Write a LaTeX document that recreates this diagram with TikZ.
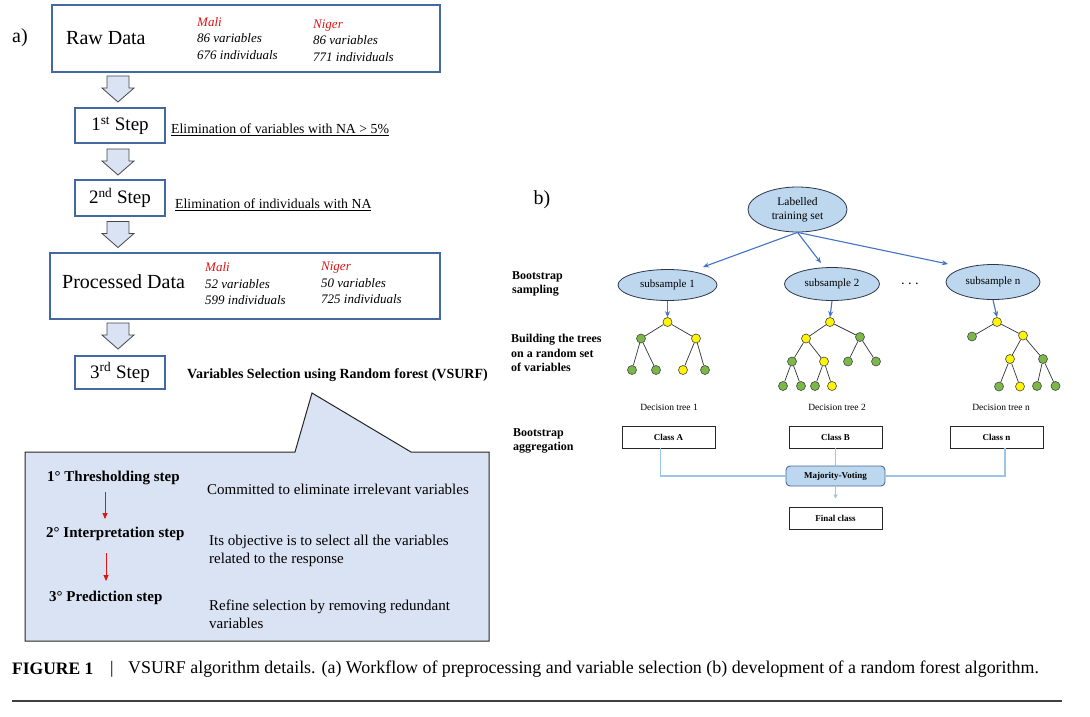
\documentclass[tikz,border=0pt]{standalone}
\usepackage{fontspec}
\setmainfont{Liberation Serif}
\usetikzlibrary{shapes.geometric,arrows.meta,calc}
\definecolor{boxblue}{RGB}{68,105,160}
\definecolor{lblue}{RGB}{218,227,243}
\definecolor{arrgray}{RGB}{70,70,70}
\definecolor{redt}{RGB}{225,20,20}
\definecolor{ellfill}{RGB}{189,215,238}
\definecolor{elldraw}{RGB}{45,55,75}
\definecolor{arrblue}{RGB}{68,114,196}
\definecolor{linkblue}{RGB}{157,195,230}
\definecolor{treeyel}{RGB}{255,245,0}
\definecolor{treegrn}{RGB}{122,184,72}
\newcommand{\fs}[2]{\fontsize{#1}{#2}\selectfont}
\tikzset{
  every node/.style={inner sep=0pt},
  abox/.style={draw=boxblue,line width=1.5pt,rectangle,inner sep=0pt},
  blockdown/.pic={\draw[draw=arrgray,fill=lblue,line width=0.8pt,line join=miter]
     (-11,-13) -- (11,-13) -- (11,-1) -- (16,-1) -- (0,13) -- (-16,-1) -- (-11,-1) -- cycle;},
  big/.style={font=\fs{20}{24}},
  stepfont/.style={font=\fs{19}{23}},
  country/.style={anchor=west,align=left,font=\fs{13}{16.5}\itshape},
  elim/.style={anchor=west,font=\fs{13.8}{16}},
  clabel/.style={anchor=west,font=\fs{15}{18}\bfseries},
  cdesc/.style={anchor=west,align=left,font=\fs{15}{18}},
  redarr/.style={draw=redt,line width=0.9pt,-{Triangle[length=6pt,width=5pt]}},
  rlab/.style={anchor=west,align=left,font=\fs{12}{14.5}\bfseries},
  ell/.style={ellipse,draw=elldraw,fill=ellfill,line width=0.8pt,inner sep=0pt},
  bluearr/.style={draw=arrblue,line width=1.1pt,-{Stealth[length=6pt,width=5pt]}},
  tn/.style={circle,draw=arrgray,line width=0.6pt,minimum size=9pt,inner sep=0pt},
  yel/.style={tn,fill=treeyel},
  grn/.style={tn,fill=treegrn},
  tedge/.style={draw=black!80,line width=0.7pt},
  dt/.style={font=\fs{9.5}{11}},
  cbox/.style={draw=black!85,line width=0.9pt,fill=white,minimum width=93pt,minimum height=22pt,inner sep=0pt,font=\fs{9}{11}\bfseries},
  link/.style={draw=linkblue,line width=1.1pt}
}
\begin{document}
\begin{tikzpicture}[x=1pt,y=-1pt]
\useasboundingbox (0,0) rectangle (1090,716);
\fill[white] (0,0) rectangle (1090,716);

% ---------- part a ----------
\node[big] (la) at (20,38) {a)};
\node[abox,minimum width=388pt,minimum height=67pt] (raw) at (246,38.5) {};
\node[big,anchor=west] (rawt) at (66,38) {Raw Data};
\node[country] (rawm) at (197,38.5) {\textcolor{redt}{Mali}\\86 variables\\676 individuals};
\node[country] (rawn) at (313,40.5) {\textcolor{redt}{Niger}\\86 variables\\771 individuals};

\pic (ar1) at (118,89) {blockdown};

\node[abox,minimum width=90pt,minimum height=35pt,stepfont] (s1) at (120,125.5) {1\textsuperscript{st} Step};
\node[elim] (e1) at (171,130) {\underline{Elimination of variables with NA > 5\%}};

\pic (ar2) at (118,162) {blockdown};

\node[abox,minimum width=90pt,minimum height=36pt,stepfont] (s2) at (120,198) {2\textsuperscript{nd} Step};
\node[elim] (e2) at (175,205) {\underline{Elimination of individuals with NA}};

\pic (ar3) at (118,234.5) {blockdown};

\node[abox,minimum width=390pt,minimum height=66pt] (proc) at (245,286) {};
\node[big,anchor=west] (proct) at (62,282) {Processed Data};
\node[country] (procm) at (205,284) {\textcolor{redt}{Mali}\\52 variables\\599 individuals};
\node[country] (procn) at (321,283) {\textcolor{redt}{Niger}\\50 variables\\725 individuals};

\pic (ar4) at (118,336) {blockdown};

\node[abox,minimum width=90pt,minimum height=33pt,stepfont] (s3) at (120,372.5) {3\textsuperscript{rd} Step};
\node[anchor=west,font=\fs{14}{16}\bfseries] (vs) at (187,375) {Variables Selection using Random forest (VSURF)};

% callout
\draw[draw=black!85,fill=lblue,line width=1pt] (25,452) -- (295,452) -- (312,393) -- (411,452) -- (489,452) -- (489,641) -- (25,641) -- cycle;
\node[clabel] (c1) at (47,478) {1° Thresholding step};
\node[cdesc] (d1) at (207,489) {Committed to eliminate irrelevant variables};
\node[clabel] (c2) at (46,534) {2° Interpretation step};
\node[cdesc] (d2) at (209,551) {Its objective is to select all the variables\\related to the response};
\node[clabel] (c3) at (49,598) {3° Prediction step};
\node[cdesc] (d3) at (209,614) {Refine selection by removing redundant\\variables};
\coordinate (r1a) at (105,492);
\coordinate (r1b) at (105,519);
\coordinate (r2a) at (106,553);
\coordinate (r2b) at (106,581);
\draw[redarr] (r1a) -- (r1b);
\draw[redarr] (r2a) -- (r2b);

% ---------- part b ----------
\node[big] (lb) at (542,200) {b)};
\node[ell,minimum width=99pt,minimum height=45pt,align=center,font=\fs{11.5}{14}] (lab) at (797.5,209.5) {Labelled\\training set};
\node[ell,minimum width=99pt,minimum height=31pt,font=\fs{11}{12}] (sub1) at (667.5,285) {subsample 1};
\node[ell,minimum width=95pt,minimum height=33pt,font=\fs{11}{12}] (sub2) at (832,284) {subsample 2};
\node[ell,minimum width=94pt,minimum height=35pt,font=\fs{11}{12}] (subn) at (993,282) {subsample n};
\node[font=\fs{14}{14}] (dots) at (910,286) {·\,·\,·};

\coordinate (ea) at (703,267);
\coordinate (eb) at (821,263);
\coordinate (ec) at (948,264);
\draw[bluearr] (lab.south) -- (ea);
\draw[bluearr] (lab.south) -- (eb);
\draw[bluearr] (lab.south) -- (ec);

\node[rlab] (bs) at (512,284) {Bootstrap\\sampling};
\node[rlab] (bt) at (511,353) {Building the trees\\on a random set\\of variables};
\node[rlab] (ba) at (513,441) {Bootstrap\\aggregation};

% tree 1
\node[yel] (t1r) at (667.5,322) {};
\node[grn] (t1a) at (641,338.5) {};
\node[yel] (t1b) at (696,338.5) {};
\node[grn] (t1aa) at (632,370) {};
\node[grn] (t1ab) at (656,370) {};
\node[yel] (t1ba) at (683,370) {};
\node[grn] (t1bb) at (705,370) {};
\draw[tedge] (t1r) -- (t1a) (t1r) -- (t1b) (t1a) -- (t1aa) (t1a) -- (t1ab) (t1b) -- (t1ba) (t1b) -- (t1bb);
\draw[bluearr] (sub1.south) -- (t1r.north);

% tree 2
\node[yel] (t2r) at (830,322) {};
\node[yel] (t2a) at (806,338.5) {};
\node[grn] (t2b) at (860,337) {};
\node[grn] (t2aa) at (792,361.5) {};
\node[yel] (t2ab) at (824,361.5) {};
\node[grn] (t2ba) at (848,361.5) {};
\node[grn] (t2bb) at (876,361.5) {};
\node[grn] (t2aaa) at (783,386) {};
\node[grn] (t2aab) at (801,386) {};
\node[grn] (t2aba) at (815,386) {};
\node[yel] (t2abb) at (832,386) {};
\draw[tedge] (t2r) -- (t2a) (t2r) -- (t2b) (t2a) -- (t2aa) (t2a) -- (t2ab) (t2b) -- (t2ba) (t2b) -- (t2bb)
  (t2aa) -- (t2aaa) (t2aa) -- (t2aab) (t2ab) -- (t2aba) (t2ab) -- (t2abb);
\draw[bluearr] (sub2.south) -- (t2r.north);

% tree n
\node[yel] (tnr) at (997,322) {};
\node[grn] (tna) at (972,336.5) {};
\node[yel] (tnb) at (1023,335.5) {};
\node[yel] (tnba) at (1010,359) {};
\node[grn] (tnbb) at (1043,359) {};
\node[grn] (tnbaa) at (999,386.5) {};
\node[yel] (tnbab) at (1020,386.5) {};
\node[grn] (tnbba) at (1037,386) {};
\node[grn] (tnbbb) at (1055.5,386) {};
\draw[tedge] (tnr) -- (tna) (tnr) -- (tnb) (tnb) -- (tnba) (tnb) -- (tnbb)
  (tnba) -- (tnbaa) (tnba) -- (tnbab) (tnbb) -- (tnbba) (tnbb) -- (tnbbb);
\draw[bluearr] (subn.south) -- (tnr.north);

\node[dt] (dt1) at (669,407) {Decision tree 1};
\node[dt] (dt2) at (837,407) {Decision tree 2};
\node[dt] (dtn) at (1001,407) {Decision tree n};

\node[cbox] (cA) at (668.5,437) {Class A};
\node[cbox] (cB) at (835.5,437) {Class B};
\node[cbox] (cN) at (996.5,437) {Class n};
\node[draw=boxblue,fill=ellfill,line width=0.9pt,rounded corners=4pt,minimum width=99pt,minimum height=20pt,inner sep=0pt,font=\fs{9}{11}\bfseries] (mv) at (835.5,476) {Majority-Voting};
\node[cbox] (fc) at (835.5,518) {Final class};

\draw[link] ([xshift=-8pt]cA.south) |- (mv.west);
\draw[link] ([xshift=8.5pt]cN.south) |- (mv.east);
\draw[link] (cB.south) -- (mv.north);
\draw[link,line width=0.9pt,shorten >=8pt,-{Triangle[length=4pt,width=4pt]}] (mv.south) -- (fc.north);

% ---------- caption ----------
\node[anchor=west,font=\fs{17.5}{20}\bfseries] (cap1) at (12,669) {FIGURE 1};
\node[font=\fs{17.5}{20}] (cap2) at (112,669) {|};
\node[anchor=west,font=\fs{17.9}{20}] (cap3) at (128,669) {VSURF algorithm details. (a) Workflow of preprocessing and variable selection (b) development of a random forest algorithm.};
\draw[draw=black!75,line width=1.3pt] (12,701) -- (1062,701);
\end{tikzpicture}
\end{document}
